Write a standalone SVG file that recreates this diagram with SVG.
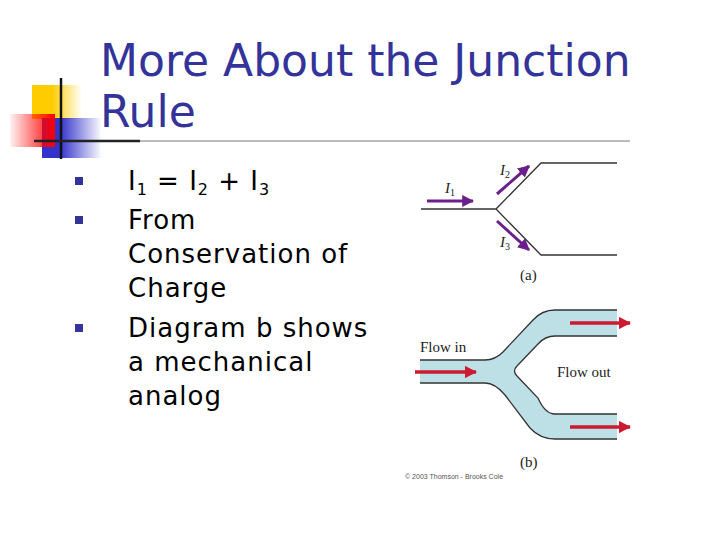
<svg xmlns="http://www.w3.org/2000/svg" width="720" height="540" viewBox="0 0 720 540">
<defs>
<linearGradient id="gy" x1="0" x2="1"><stop offset="0.4" stop-color="#ffcc00"/><stop offset="1" stop-color="#ffcc00" stop-opacity="0"/></linearGradient>
<linearGradient id="gr" x1="1" x2="0"><stop offset="0" stop-color="#ff0000"/><stop offset="1" stop-color="#ff0000" stop-opacity="0.05"/></linearGradient>
<linearGradient id="gb" x1="0" x2="1"><stop offset="0.3" stop-color="#3333cc"/><stop offset="1" stop-color="#3333cc" stop-opacity="0"/></linearGradient>
<marker id="ap" viewBox="0 0 10 10" refX="9" refY="5" markerWidth="4" markerHeight="4" orient="auto"><path d="M0,0L10,5L0,10z" fill="#6a1f8a"/></marker>
<marker id="ar" viewBox="0 0 10 10" refX="9" refY="5" markerWidth="3.5" markerHeight="3.5" orient="auto"><path d="M0,0L10,5L0,10z" fill="#cc1a33"/></marker>
<style>
.t{font-family:"DejaVu Sans",sans-serif;fill:#333399}
.b{font-family:"DejaVu Sans",sans-serif;font-size:26px;letter-spacing:1px;fill:#000}
.s{font-family:"Liberation Serif",serif;fill:#222}
.pl{stroke:#6a1f8a;stroke-width:3;marker-end:url(#ap)}
.rl{stroke:#cc1a33;stroke-width:3.5;marker-end:url(#ar)}
.w{stroke:#333;stroke-width:1.3;fill:none}
</style>
</defs>
<g id="deco">
<rect x="32" y="85" width="50" height="34" fill="url(#gy)"/>
<rect x="42" y="118" width="60" height="40" fill="url(#gb)"/>
<rect x="10" y="114" width="45" height="33" fill="url(#gr)"/>
<line x1="61" y1="78" x2="61" y2="159" stroke="#111" stroke-width="2.5"/>
<line x1="34" y1="141" x2="140" y2="141" stroke="#222" stroke-width="2.5"/>
<line x1="140" y1="141" x2="630" y2="141" stroke="#bbb" stroke-width="2"/>
</g>
<g id="title">
<text class="t" x="100" y="76" font-size="44">More About the Junction</text>
<text class="t" x="100" y="127" font-size="44">Rule</text>
</g>
<g id="bullets">
<rect x="75" y="177" width="8" height="8" fill="#333399"/>
<rect x="75" y="216" width="8" height="8" fill="#333399"/>
<rect x="75" y="324" width="8" height="8" fill="#333399"/>
<text class="b" x="128" y="190">I<tspan font-size="16" dy="5">1</tspan><tspan dy="-5"> = I</tspan><tspan font-size="16" dy="5">2</tspan><tspan dy="-5"> + I</tspan><tspan font-size="16" dy="5">3</tspan></text>
<text class="b" x="128" y="229">From</text>
<text class="b" x="128" y="263">Conservation of</text>
<text class="b" x="128" y="297">Charge</text>
<text class="b" x="128" y="337">Diagram b shows</text>
<text class="b" x="128" y="371">a mechanical</text>
<text class="b" x="128" y="405">analog</text>
</g>
<g id="panel-a">
<path class="w" d="M421,209H496L541,163H617M496,209L541,255H617"/>
<line class="pl" x1="427" y1="201" x2="473" y2="201"/>
<line class="pl" x1="497" y1="194" x2="529" y2="166"/>
<line class="pl" x1="497" y1="221" x2="529" y2="250"/>
<text class="s" x="445" y="193" font-size="15" font-style="italic">I<tspan font-size="10" dy="3" font-style="normal">1</tspan></text>
<text class="s" x="500" y="175" font-size="15" font-style="italic">I<tspan font-size="10" dy="3" font-style="normal">2</tspan></text>
<text class="s" x="500" y="247" font-size="15" font-style="italic">I<tspan font-size="10" dy="3" font-style="normal">3</tspan></text>
<text class="s" x="520" y="280" font-size="15">(a)</text>
</g>
<g id="panel-b">
<path d="M420,360H485Q495,360 503,352L533,320Q542,310 555,310H617V336H555Q545,336 538,344L517,366Q512,371 517,376L538,398Q545,414 555,414H617V439H555Q540,439 530,428L505,395Q495,383 485,383H420Z" fill="#bde0e6"/>
<path class="w" d="M420,360H485Q495,360 503,352L533,320Q542,310 555,310H617M617,336H555Q545,336 538,344L517,366Q512,371 517,376L538,398Q545,414 555,414H617M617,439H555Q540,439 530,428L505,395Q495,383 485,383H420"/>
<line class="rl" x1="415" y1="372" x2="476" y2="372"/>
<line class="rl" x1="570" y1="323" x2="630" y2="323"/>
<line class="rl" x1="570" y1="427" x2="630" y2="427"/>
<text class="s" x="420" y="352" font-size="15">Flow in</text>
<text class="s" x="557" y="377" font-size="15">Flow out</text>
<text class="s" x="520" y="467" font-size="15">(b)</text>
<text x="405" y="479" font-size="7" font-family="Liberation Sans,sans-serif" fill="#555">© 2003 Thomson - Brooks Cole</text>
</g>
</svg>
